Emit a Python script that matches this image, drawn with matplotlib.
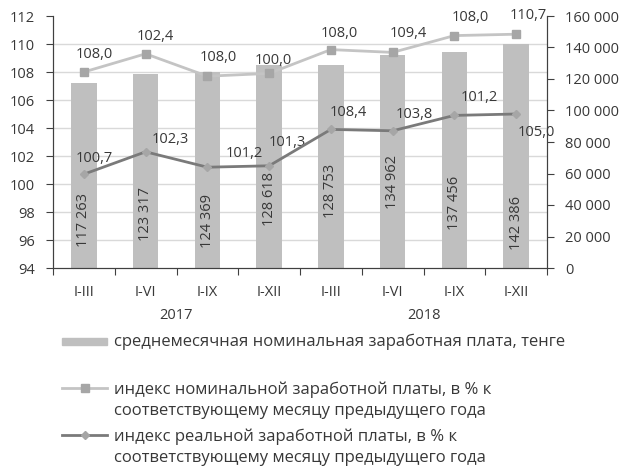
import numpy as np
import matplotlib
matplotlib.use('Agg')
import matplotlib.pyplot as plt
from matplotlib.ticker import FixedLocator, FuncFormatter
from matplotlib.patches import Rectangle
from matplotlib.lines import Line2D

plt.rcParams['font.family'] = ['Open Sans', 'DejaVu Sans']

# Данные
periods = ['I-III', 'I-VI', 'I-IX', 'I-XII', 'I-III', 'I-VI', 'I-IX', 'I-XII']
years = ['2017', '2018']
wage = [117263, 123317, 124369, 128618, 128753, 134962, 137456, 142386]
nominal_index = [108.0, 109.3, 107.7, 107.9, 109.6, 109.4, 110.6, 110.7]
real_index = [100.7, 102.3, 101.2, 101.3, 103.9, 103.8, 104.9, 105.0]
nominal_labels = ['108,0', '102,4', '108,0', '100,0', '108,0', '109,4', '108,0', '110,7']
real_labels = ['100,7', '102,3', '101,2', '101,3', '108,4', '103,8', '101,2', '105,0']

# Положение подписей (смещения в пикселях и высота подписей столбцов)
nominal_offsets = [(10, 17), (10, 17), (11, 19), (4, 13), (8, 16), (16, 19), (16, 18), (12, 19)]
real_offsets = [(10, 16), (25, 12), (37, 14), (18, 23), (17, 17), (22, 16), (25, 18), (20, -18)]
bar_label_y = [30500, 34300, 29800, 44100, 48900, 54900, 41000, 28300]

text_color = '#383838'
fs = 10.5
legend_fs = 12

fig = plt.figure(figsize=(6.24, 4.70), dpi=100)
ax2 = fig.add_axes([53 / 624, 1 - 268 / 470, 494 / 624, 252 / 470])
ax = ax2.twinx()

x = np.arange(len(periods))

# Столбцы - правая ось
ax2.bar(x, wage, width=0.41, color='#BFBFBF', zorder=2)
ax2.set_ylim(0, 160000)
ax2.set_xlim(-0.5, len(periods) - 0.5)
ax2.yaxis.set_major_locator(FixedLocator(np.arange(0, 160001, 20000)))
ax2.yaxis.set_major_formatter(FuncFormatter(lambda v, p: f'{int(v):,}'.replace(',', ' ')))
ax2.yaxis.tick_right()
ax2.yaxis.set_minor_locator(FixedLocator(np.linspace(0, 160000, 10)))
ax2.grid(which='minor', axis='y', color='#D9D9D9', linewidth=1, zorder=0)
ax2.tick_params(axis='y', which='minor', length=0)
ax2.tick_params(axis='y', which='major', direction='out', length=5, labelsize=fs,
                labelcolor=text_color, color='#404040', pad=8)

for xi, w, ly in zip(x, wage, bar_label_y):
    ax2.text(xi, ly, f'{w:,}'.replace(',', ' '), rotation=90, ha='center', va='center',
             fontsize=fs, color=text_color, zorder=3)

# Ось категорий
ax2.xaxis.set_major_locator(FixedLocator(np.arange(-0.5, len(periods), 1)))
ax2.xaxis.set_major_formatter(FuncFormatter(lambda v, p: ''))
ax2.xaxis.set_minor_locator(FixedLocator(x))
ax2.set_xticklabels(periods, minor=True)
ax2.tick_params(axis='x', which='major', direction='out', length=5, color='#404040')
ax2.tick_params(axis='x', which='minor', length=0, pad=12, labelsize=fs, labelcolor=text_color)

for i, yr in enumerate(years):
    ax2.text(i * 4 + 1.5, -0.19, yr, transform=ax2.get_xaxis_transform(),
             ha='center', va='center', fontsize=fs, color=text_color)

# Линии индексов - левая ось
ax.plot(x, nominal_index, color='#C4C4C4', linewidth=2, marker='s', markersize=5.5,
        markerfacecolor='#A6A6A6', markeredgecolor='#A6A6A6', zorder=3)
ax.plot(x, real_index, color='#7A7A7A', linewidth=2, marker='D', markersize=4.5,
        markerfacecolor='#A6A6A6', markeredgecolor='#A6A6A6', zorder=4)
ax.set_ylim(94, 112)
ax.yaxis.set_major_locator(FixedLocator(np.arange(94, 113, 2)))
ax.yaxis.tick_left()
ax.tick_params(axis='y', direction='out', length=5, labelsize=fs, labelcolor=text_color,
               color='#404040', pad=8)

for xi, v, lab, off in zip(x, nominal_index, nominal_labels, nominal_offsets):
    ax.annotate(lab, (xi, v), xytext=off, textcoords='offset pixels', ha='center', va='center',
                fontsize=fs, color=text_color)
for xi, v, lab, off in zip(x, real_index, real_labels, real_offsets):
    ax.annotate(lab, (xi, v), xytext=off, textcoords='offset pixels', ha='center', va='center',
                fontsize=fs, color=text_color)

for a in (ax, ax2):
    a.spines['top'].set_visible(False)
    for s in ('left', 'right', 'bottom'):
        a.spines[s].set_color('#404040')

# Легенда
W, H = 624, 470
def fx(px):
    return px / W
def fy(py):
    return 1 - py / H

fig.patches.append(Rectangle((fx(62), fy(345)), fx(107) - fx(62), 7 / H,
                             transform=fig.transFigure, color='#BFBFBF'))
fig.text(fx(114), fy(342), 'среднемесячная номинальная заработная плата, тенге',
         ha='left', va='center', fontsize=legend_fs, color=text_color)

fig.lines.append(Line2D([fx(62), fx(107)], [fy(388), fy(388)], transform=fig.transFigure,
                        color='#C4C4C4', linewidth=2))
fig.lines.append(Line2D([fx(84.5)], [fy(388)], transform=fig.transFigure, marker='s',
                        markersize=5.5, color='#A6A6A6', linestyle='none'))
fig.text(fx(114), fy(400), 'индекс номинальной заработной платы, в % к\nсоответствующему месяцу предыдущего года',
         ha='left', va='center', fontsize=legend_fs, color=text_color, linespacing=1.45)

fig.lines.append(Line2D([fx(62), fx(107)], [fy(435), fy(435)], transform=fig.transFigure,
                        color='#7A7A7A', linewidth=2))
fig.lines.append(Line2D([fx(84.5)], [fy(435)], transform=fig.transFigure, marker='D',
                        markersize=4.5, color='#A6A6A6', linestyle='none'))
fig.text(fx(114), fy(447), 'индекс реальной заработной платы, в % к\nсоответствующему месяцу предыдущего года',
         ha='left', va='center', fontsize=legend_fs, color=text_color, linespacing=1.45)

fig.savefig('out.png', dpi=100)
